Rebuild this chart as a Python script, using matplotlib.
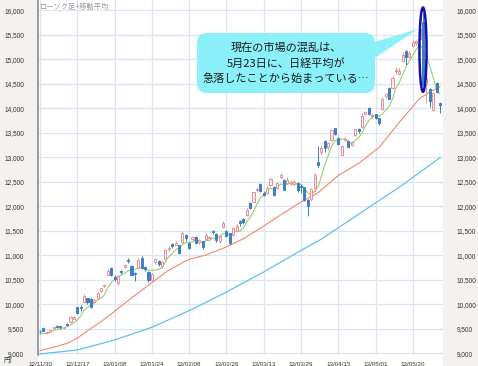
import numpy as np
import matplotlib
matplotlib.use("Agg")
from matplotlib import pyplot as plt
from matplotlib.patches import Ellipse, FancyBboxPatch, Polygon, Rectangle
from matplotlib.transforms import IdentityTransform

plt.rcParams['font.family'] = ['Liberation Sans', 'DejaVu Sans']
JP = ['Noto Sans CJK JP', 'DejaVu Sans']

# daily candles, 2012/11/30 .. 2013/05/30 (index = trading day)
opens = [9460, 9510, 9410, 9440, 9520, 9560, 9550, 9510, 9600, 9640,
         9700, 9940, 9950, 10040, 10120, 10110, 10050, 10120, 10280, 10370,
         10600, 10750, 10560, 10440, 10680, 10760, 10900, 10790, 10640, 10750,
         10950, 10760, 10650, 10500, 10860, 10890, 10780, 10920, 11120, 11230,
         11220, 11200, 11280, 11420, 11250, 11330, 11380, 11270, 11290, 11330,
         11350, 11500, 11440, 11290, 11580, 11500, 11450, 11420, 11500, 11700,
         11750, 11820, 12060, 12090, 12330, 12450, 12280, 12280, 12440, 12400,
         12380, 12600, 12530, 12470, 12450, 12460, 12470, 12420, 12390, 12130,
         12150, 12380, 12900, 13100, 13340, 13200, 13350, 13600, 13390, 13050,
         13360, 13340, 13250, 13450, 13580, 13620, 13880, 14000, 13850, 13880,
         13800, 13990, 14260, 14420, 14420, 14760, 14700, 14960, 15170, 15050,
         15280, 15330, 15420, 15760, 14500, 14390, 13960, 14510, 14114]
highs = [9480, 9530, 9450, 9480, 9560, 9570, 9560, 9545, 9610, 9760,
         9760, 9950, 9980, 10200, 10130, 10120, 10100, 10250, 10340, 10420,
         10720, 10760, 10600, 10600, 10700, 10830, 10950, 10800, 10660, 10940,
         10980, 10790, 10670, 10640, 10950, 10900, 10880, 11130, 11180, 11250,
         11290, 11220, 11500, 11440, 11270, 11400, 11400, 11340, 11300, 11450,
         11400, 11520, 11450, 11410, 11690, 11520, 11460, 11580, 11630, 11720,
         11770, 11970, 12080, 12300, 12400, 12470, 12320, 12410, 12600, 12420,
         12500, 12680, 12550, 12600, 12520, 12530, 12490, 12450, 12400, 12150,
         12380, 12680, 13225, 13260, 13360, 13320, 13570, 13600, 13420, 13250,
         13420, 13350, 13330, 13580, 13600, 13900, 13950, 14020, 13900, 13890,
         13810, 14230, 14320, 14440, 14650, 14850, 14820, 15150, 15180, 15160,
         15400, 15400, 15680, 15940, 14900, 14410, 14330, 14540, 14135]
lows = [9420, 9450, 9390, 9430, 9500, 9510, 9500, 9490, 9560, 9620,
        9690, 9810, 9870, 10020, 10000, 9920, 10020, 10100, 10260, 10360,
        10590, 10580, 10470, 10400, 10620, 10740, 10850, 10590, 10470, 10720,
        10730, 10680, 10460, 10480, 10820, 10780, 10750, 10900, 11080, 11150,
        11200, 11020, 11250, 11300, 11130, 11290, 11230, 11240, 11130, 11320,
        11330, 11440, 11280, 11260, 11560, 11380, 11200, 11400, 11480, 11600,
        11630, 11800, 11950, 12080, 12300, 12300, 12200, 12260, 12420, 12200,
        12360, 12580, 12330, 12460, 12430, 12420, 12300, 12280, 12100, 11805,
        12100, 12300, 12800, 13050, 13100, 13150, 13330, 13450, 13250, 13020,
        13340, 13200, 13230, 13430, 13500, 13600, 13860, 13860, 13800, 13780,
        13650, 13970, 14200, 14180, 14400, 14700, 14680, 14950, 14880, 15020,
        15260, 15290, 15400, 14470, 14100, 14030, 13950, 14320, 13898]
closes = [9446, 9458, 9432, 9469, 9545, 9527, 9534, 9525, 9581, 9743,
          9738, 9829, 9923, 10160, 10039, 9940, 10080, 10230, 10323, 10395,
          10688, 10599, 10508, 10579, 10653, 10802, 10879, 10600, 10610, 10913,
          10748, 10710, 10487, 10620, 10927, 10824, 10867, 11114, 11139, 11191,
          11260, 11047, 11464, 11357, 11153, 11369, 11251, 11307, 11174, 11408,
          11372, 11468, 11309, 11386, 11663, 11399, 11254, 11559, 11606, 11652,
          11683, 11932, 11968, 12284, 12349, 12315, 12240, 12381, 12561, 12221,
          12468, 12636, 12339, 12546, 12472, 12494, 12336, 12398, 12135, 12003,
          12362, 12635, 12834, 13193, 13192, 13288, 13549, 13485, 13276, 13221,
          13383, 13220, 13316, 13568, 13530, 13843, 13926, 13884, 13861, 13799,
          13694, 14180, 14286, 14191, 14608, 14782, 14758, 15096, 15037, 15138,
          15361, 15381, 15627, 14484, 14612, 14142, 14312, 14326, 14067]

# 5-day moving average (green), one value per candle
ma5 = [9393, 9407, 9409, 9441, 9470, 9486, 9501, 9520, 9542, 9582,
       9624, 9683, 9763, 9879, 9938, 9978, 10028, 10090, 10122, 10194,
       10343, 10447, 10503, 10554, 10605, 10628, 10684, 10703, 10709, 10761,
       10750, 10716, 10694, 10696, 10698, 10714, 10745, 10870, 10974, 11027,
       11114, 11150, 11220, 11264, 11256, 11278, 11319, 11287, 11251, 11302,
       11302, 11346, 11346, 11389, 11440, 11445, 11402, 11452, 11496, 11494,
       11551, 11686, 11768, 11904, 12043, 12170, 12231, 12314, 12369, 12344,
       12374, 12453, 12445, 12442, 12492, 12497, 12437, 12449, 12367, 12273,
       12247, 12307, 12394, 12605, 12843, 13028, 13211, 13341, 13358, 13364,
       13383, 13317, 13283, 13342, 13403, 13495, 13637, 13750, 13809, 13863,
       13833, 13884, 13964, 14030, 14192, 14409, 14525, 14687, 14856, 14962,
       15078, 15203, 15309, 15198, 15093, 14849, 14636, 14375, 14292]

# 25-day (red) and 75-day (blue) averages read at a few days
ma25_day = [0, 4, 8, 11, 14, 18, 22, 27, 33, 38, 44, 49, 55, 60, 66, 71,
            77, 82, 88, 94, 100, 106, 112, 115, 118]
ma25 = [9053, 9122, 9204, 9306, 9461, 9645, 9857, 10130, 10441, 10700,
        10918, 11006, 11171, 11338, 11597, 11824, 12086, 12274, 12628,
        12875, 13197, 13715, 14199, 14333, 14437]
ma75_day = [0, 11, 22, 33, 44, 55, 66, 77, 83, 91, 106, 118]
ma75 = [8986, 9067, 9271, 9531, 9869, 10250, 10660, 11100, 11330, 11700,
        12390, 12990]

tick_days = [0, 11, 22, 33, 44, 55, 66, 77, 88, 99, 110]
tick_labels = ["12/11/30", "12/12/17", "13/01/08", "13/01/24", "13/02/08",
               "13/02/26", "13/03/13", "13/03/29", "13/04/15", "13/05/01",
               "13/05/20"]

note_lines = ["現在の市場の混乱は、", "5月23日に、日経平均が", "急落したことから始まっている…"]

PINK = '#e8909a'
PINK_FILL = '#fdecee'
BLUE = '#3d80c2'

W, H = 478, 366
fig = plt.figure(figsize=(W / 100, H / 100), dpi=100, facecolor='white')
ax = fig.add_axes([38 / W, 11 / H, 405 / W, 355 / H])

# grey side panels for the price scales
fig.patches.append(Rectangle((0, 0), 37 / W, 1, transform=fig.transFigure,
                             color='#f3f2f0', zorder=-5))
fig.patches.append(Rectangle((443 / W, 0), 35 / W, 1, transform=fig.transFigure,
                             color='#f3f2f0', zorder=-5))

o = np.array(opens)
h = np.array(highs)
l = np.array(lows)
c = np.array(closes)
x = np.arange(len(c))
up = c >= o

ax.plot(x, ma5, color='#97cf72', lw=0.8, zorder=2)
ax.plot(ma25_day, ma25, color='#f3866f', lw=0.8, zorder=2)
ax.plot(ma75_day, ma75, color='#62c0ea', lw=0.9, zorder=2)

ax.vlines(x, l, h, colors=np.where(up, PINK, BLUE), lw=0.7, zorder=3)
body = np.maximum(np.abs(c - o), 12)
ax.bar(x[up], body[up], bottom=o[up], width=0.62, color=PINK_FILL,
       edgecolor=PINK, lw=0.7, zorder=4)
ax.bar(x[~up], body[~up], bottom=c[~up], width=0.62, color=BLUE,
       edgecolor=BLUE, lw=0.7, zorder=4)

# ring around the 5/23 crash
ax.add_patch(Ellipse((113, 15196), width=2.1, height=1720, fill=False,
                     edgecolor='#1212a8', lw=1.8, zorder=6))

ax.set_xlim(-0.6, 118.9)
ax.set_ylim(8965, 16210)
ax.set_xticks(tick_days)
ax.set_xticklabels(tick_labels)
yt = list(range(9000, 16001, 500))
ax.set_yticks(yt)
ax.set_yticklabels([f"{v:,}" for v in yt])
ax.grid(color='#dfe4f4', lw=0.9)
ax.set_axisbelow(True)
ax.tick_params(axis='y', left=False, right=False, labelleft=True,
               labelright=True, labelsize=4.7, pad=6.5, colors='#333333')
ax.tick_params(axis='x', bottom=False, labelsize=4.5, pad=1.5, colors='#333333')
for s in ['top', 'right', 'bottom']:
    ax.spines[s].set_visible(False)
ax.spines['left'].set_color('#8a8a8a')
ax.spines['left'].set_linewidth(1.2)

fig.text(40 / W, 1 - 6.5 / H, "ローソク足+移動平均", family=JP, fontsize=5.2,
         color='#999999', ha='left', va='center')
fig.text(3 / W, 1 - 361 / H, "円)", family=JP, fontsize=4.8,
         color='#333333', ha='left', va='center')

# speech bubble (pixel coordinates, y up)
ident = IdentityTransform()
bubble = FancyBboxPatch((197, H - 93), 178, 60,
                        boxstyle="round,pad=0,rounding_size=10",
                        transform=ident, facecolor='#8cf0fb', edgecolor='none',
                        zorder=10)
tail = Polygon([(371, H - 43), (418, H - 29), (373, H - 59)], closed=True,
               transform=ident, facecolor='#8cf0fb', edgecolor='none', zorder=10)
fig.patches.extend([bubble, tail])
for k, line in enumerate(note_lines):
    fig.text(286 / W, 1 - (48 + 15.5 * k) / H, line, family=JP, fontsize=8.0,
             color='#1a1a1a', ha='center', va='center', zorder=11)

plt.savefig("out.png", dpi=100)
